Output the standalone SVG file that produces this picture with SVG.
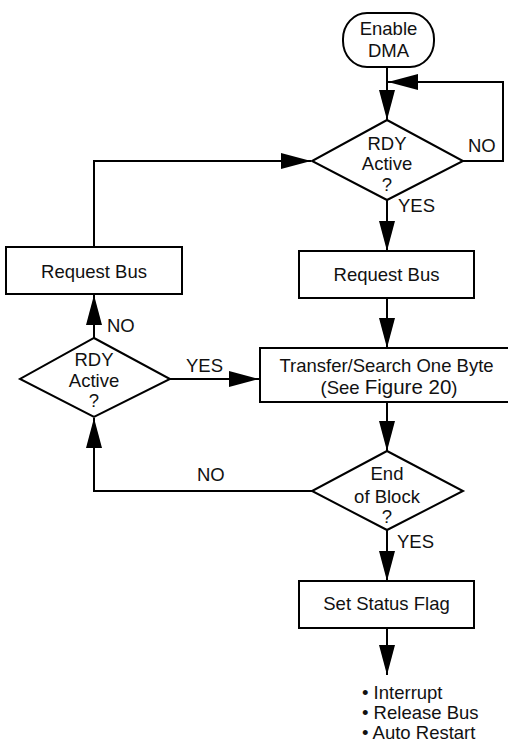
<svg xmlns="http://www.w3.org/2000/svg" width="508" height="743" viewBox="0 0 508 743">
<style>
.box{fill:#fff;stroke:#000;stroke-width:2}
.ln{fill:none;stroke:#000;stroke-width:2}
text{font-family:"Liberation Sans",Arial,sans-serif;font-size:18.5px;fill:#111}
.c{text-anchor:middle}
</style>
<defs>
<marker id="ah" markerUnits="userSpaceOnUse" markerWidth="30" markerHeight="16" refX="30" refY="8" orient="auto" viewBox="0 0 30 16">
<path d="M0,0 L30,8 L0,16 Z" fill="#000"/>
</marker>
</defs>
<rect width="508" height="743" fill="#fff"/>
<g id="connectors">
<line class="ln" x1="387" y1="67" x2="387" y2="120" marker-end="url(#ah)"/>
<polyline class="ln" points="463,161 503,161 503,82 388,82" marker-end="url(#ah)"/>
<line class="ln" x1="387" y1="200" x2="387" y2="251" marker-end="url(#ah)"/>
<line class="ln" x1="387" y1="298" x2="387" y2="348" marker-end="url(#ah)"/>
<line class="ln" x1="387" y1="402" x2="387" y2="451" marker-end="url(#ah)"/>
<line class="ln" x1="387" y1="530" x2="387" y2="581" marker-end="url(#ah)"/>
<line class="ln" x1="387" y1="628" x2="387" y2="675" marker-end="url(#ah)"/>
<polyline class="ln" points="312,491 94,491 94,418" marker-end="url(#ah)"/>
<line class="ln" x1="94" y1="338" x2="94" y2="295" marker-end="url(#ah)"/>
<polyline class="ln" points="94,247 94,161 311,161" marker-end="url(#ah)"/>
<line class="ln" x1="170" y1="379" x2="259" y2="379" marker-end="url(#ah)"/>
<text x="468" y="152">NO</text>
<text x="398" y="212">YES</text>
<text x="107" y="332">NO</text>
<text x="186" y="372">YES</text>
<text x="197" y="481">NO</text>
<text x="397" y="548">YES</text>
</g>
<g id="enable-dma">
<rect class="box" x="343" y="13" width="91" height="54" rx="24" ry="26"/>
<text class="c" x="388.5" y="35">Enable</text>
<text class="c" x="388.5" y="57">DMA</text>
</g>
<g id="rdy-active-1">
<polygon class="box" points="387,120 463,161 387,200 312,161"/>
<text class="c" x="387" y="150">RDY</text>
<text class="c" x="387" y="170">Active</text>
<text class="c" x="387" y="191">?</text>
</g>
<g id="request-bus-right">
<rect class="box" x="299" y="251" width="175" height="47"/>
<text class="c" x="386.5" y="281">Request Bus</text>
</g>
<g id="request-bus-left">
<rect class="box" x="6" y="247" width="176" height="47"/>
<text class="c" x="94" y="278">Request Bus</text>
</g>
<g id="rdy-active-2">
<polygon class="box" points="94,338 170,379 94,417 20,379"/>
<text class="c" x="94" y="366">RDY</text>
<text class="c" x="94" y="387">Active</text>
<text class="c" x="94" y="407">?</text>
</g>
<g id="transfer">
<path class="box" d="M509,348 H260 V402 H509"/>
<text class="c" x="386.5" y="372">Transfer/Search One Byte</text>
<text class="c" x="389" y="394">(See <tspan font-size="20.5">Figure 20</tspan>)</text>
</g>
<g id="end-of-block">
<polygon class="box" points="387,451 463,491 387,530 312,491"/>
<text class="c" x="387" y="480">End</text>
<text class="c" x="387" y="503">of Block</text>
<text class="c" x="387" y="523">?</text>
</g>
<g id="set-status-flag">
<rect class="box" x="299" y="581" width="175" height="47"/>
<text class="c" x="386.5" y="610">Set Status Flag</text>
</g>
<g id="outputs">
<text x="362" y="699">• Interrupt</text>
<text x="362" y="719">• Release Bus</text>
<text x="362" y="739">• Auto Restart</text>
</g>
</svg>
